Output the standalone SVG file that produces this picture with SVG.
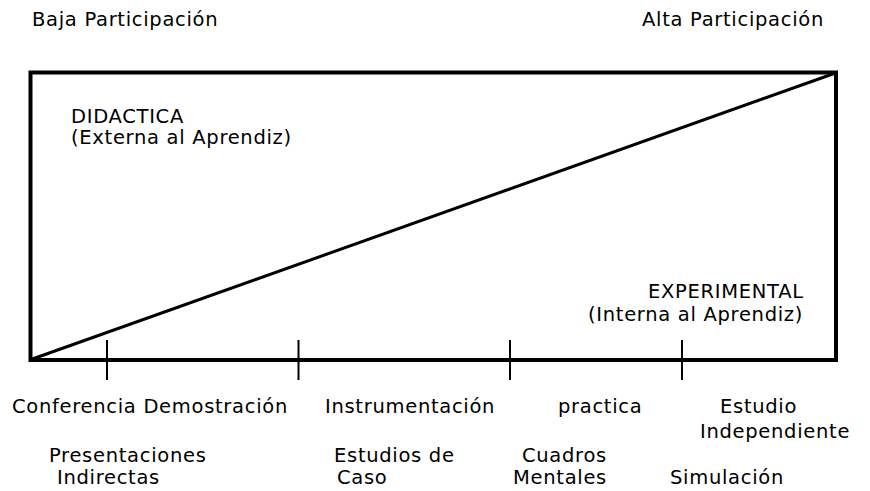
<svg xmlns="http://www.w3.org/2000/svg" width="870" height="491" viewBox="0 0 870 491">
<style>
text{font-family:"DejaVu Sans","Verdana",sans-serif;font-size:19.5px;letter-spacing:0.7px;fill:#000}
.frame{fill:none;stroke:#000;stroke-width:4}
.diag{stroke:#000;stroke-width:3}
.tick{stroke:#000;stroke-width:2}
</style>
<rect width="870" height="491" fill="#fff"/>
<g id="frame">
<rect class="frame" x="30.5" y="72.5" width="805.5" height="287.5"/>
</g>
<g id="connectors">
<line class="diag" x1="31" y1="359.5" x2="835.5" y2="73"/>
<line class="tick" x1="107" y1="340" x2="107" y2="380"/>
<line class="tick" x1="298.5" y1="340" x2="298.5" y2="380"/>
<line class="tick" x1="510" y1="340" x2="510" y2="380"/>
<line class="tick" x1="682" y1="340" x2="682" y2="380"/>
</g>
<g id="baja"><text x="32" y="26">Baja Participación</text></g>
<g id="alta"><text x="642" y="26">Alta Participación</text></g>
<g id="didactica"><text x="71" y="123">DIDACTICA</text><text x="71" y="144">(Externa al Aprendiz)</text></g>
<g id="experimental"><text x="648" y="298">EXPERIMENTAL</text><text x="588" y="321">(Interna al Aprendiz)</text></g>
<g id="conferencia"><text x="12" y="413">Conferencia Demostración</text></g>
<g id="instrumentacion"><text x="325" y="413">Instrumentación</text></g>
<g id="practica"><text x="558" y="413">practica</text></g>
<g id="estudio"><text x="720" y="413">Estudio</text><text x="700" y="438">Independiente</text></g>
<g id="presentaciones"><text x="49" y="462">Presentaciones</text><text x="57" y="484">Indirectas</text></g>
<g id="estudios-caso"><text x="334" y="462">Estudios de</text><text x="337" y="484">Caso</text></g>
<g id="cuadros"><text x="522" y="462">Cuadros</text><text x="513" y="484">Mentales</text></g>
<g id="simulacion"><text x="670" y="484">Simulación</text></g>
</svg>
